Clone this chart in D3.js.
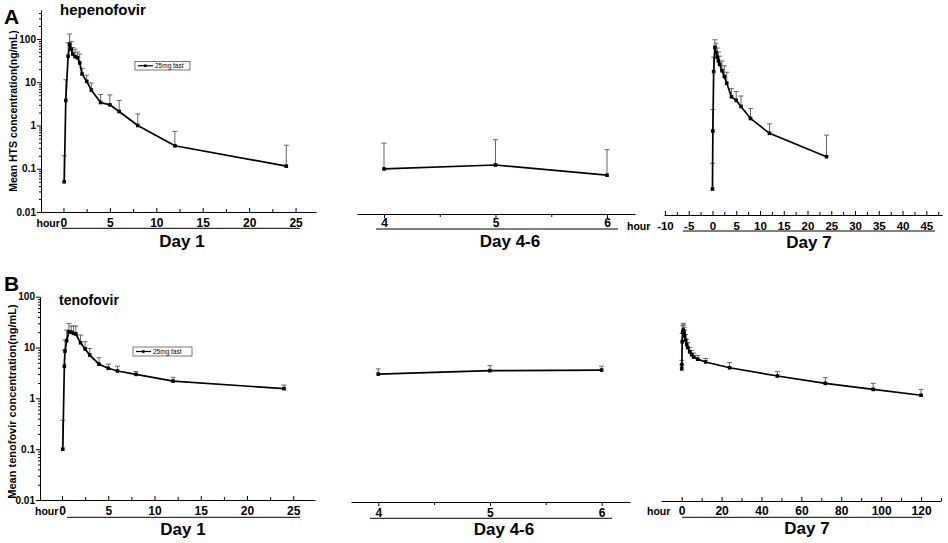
<!DOCTYPE html>
<html>
<head>
<meta charset="utf-8">
<script src="https://cdn.jsdelivr.net/npm/d3@7"></script>
<style>
body { margin: 0; background: #fff; }
svg text { font-family: "Liberation Sans", Arial, sans-serif; font-weight: bold; fill: #000; }
</style>
</head>
<body>
<div id="chart"></div>
<script>
// ---- data ----
// hepenofovir (HTS), day 1
var hepD1Time  = [0.083, 0.25, 0.5, 0.667, 0.833, 1, 1.25, 1.5, 1.75, 2, 2.5, 3, 4, 5, 6, 8, 12, 24];
var hepD1Mean  = [0.05, 3.8, 40, 75, 58, 45, 39, 37, 28, 15.5, 10.5, 6.6, 3.4, 3.0, 2.1, 1.0, 0.34, 0.115];
var hepD1Upper = [0.2, 11.4, 82, 130, 88, 63, 58, 50, 45, 21, 14.6, 9.6, 5.2, 5.1, 3.8, 1.85, 0.73, 0.35];
// hepenofovir, days 4-6 (trough)
var hepD46Day   = [4, 5, 6];
var hepD46Mean  = [0.099, 0.122, 0.071];
var hepD46Upper = [0.39, 0.47, 0.276];
// hepenofovir, day 7
var hepD7Time  = [0, 0.083, 0.25, 0.5, 0.75, 1, 1.25, 1.5, 2, 2.5, 3, 4, 5, 6, 8, 12, 24];
var hepD7Mean  = [0.034, 0.75, 17.7, 64, 48, 38, 31, 26, 18.5, 13.5, 9.5, 4.6, 3.8, 2.75, 1.45, 0.66, 0.19];
var hepD7Upper = [0.134, 2.33, 38, 96, 80, 62, 50, 40, 31, 24, 17, 7.1, 6.1, 4.8, 2.46, 1.09, 0.6];

// tenofovir, day 1
var tenD1Time  = [0.083, 0.25, 0.33, 0.5, 0.75, 1, 1.25, 1.5, 2, 2.5, 3, 4, 5, 6, 8, 12, 24];
var tenD1Mean  = [0.1, 4.3, 8.5, 13.6, 20.5, 20, 19, 18.4, 12.4, 9.4, 7.1, 4.7, 3.9, 3.45, 2.96, 2.19, 1.55];
var tenD1Upper = [0.37, 8.9, 14, 22, 29.8, 26.5, 26.5, 26.5, 17.6, 13, 9.6, 6.3, 4.7, 4.3, 3.35, 2.6, 1.83];
// tenofovir, days 4-6
var tenD46Day   = [4, 5, 6];
var tenD46Mean  = [3.0, 3.5, 3.6];
var tenD46Upper = [3.8, 4.4, 4.3];
// tenofovir, day 7
var tenD7Time  = [0, 0.083, 0.25, 0.5, 0.75, 1, 1.25, 1.5, 2, 2.5, 3, 4, 5, 6, 8, 12, 24, 48, 72, 96, 120];
var tenD7Mean  = [3.8, 4.6, 13, 20, 22, 21, 19, 17, 14, 11.5, 10, 8.2, 7.2, 6.5, 5.9, 5.2, 4.0, 2.75, 1.97, 1.5, 1.15];
var tenD7Upper = [4.6, 5.6, 19, 27, 30, 28, 25, 22, 18, 14.5, 12.5, 10, 8.8, 7.8, 7, 6.1, 5.04, 3.35, 2.55, 1.97, 1.5];

// tick labels
var yTickValues = [0.01, 0.1, 1, 10, 100];
var yTickLabels = ['0.01', '0.1', '1', '10', '100'];
var day1Ticks   = [0, 5, 10, 15, 20, 25];
var day46Ticks  = [4, 5, 6];
var hepD7Ticks  = [-10, -5, 0, 5, 10, 15, 20, 25, 30, 35, 40, 45];
var tenD7Ticks  = [0, 20, 40, 60, 80, 100, 120];
var legendLabel = '25mg fast';

// ---- svg ----
var svgWidth = 948;
var svgHeight = 543;

var svg = d3.select('#chart')
  .append('svg')
  .attr('width', svgWidth)
  .attr('height', svgHeight);

svg.append('rect')
  .attr('width', svgWidth)
  .attr('height', svgHeight)
  .attr('fill', '#fff');

// log y scales (one per row)
var yA = d3.scaleLog().domain([0.01, 468]).range([212, 10]);
var yB = d3.scaleLog().domain([0.01, 100]).range([500, 296.7]);

// minor log ticks
function minorLog(lo, hi) {
  var out = [];
  for (var p = lo; p < hi; p++) {
    for (var m = 2; m <= 9; m++) out.push(m * Math.pow(10, p));
  }
  return out;
}

function drawYAxis(y, x, minors) {
  svg.append('g')
    .attr('transform', `translate(${x},0)`)
    .call(d3.axisLeft(y).tickValues(minors).tickSizeInner(2).tickSizeOuter(0).tickFormat(''))
    .call(g => g.select('.domain').remove());
  var ax = svg.append('g')
    .attr('transform', `translate(${x},0)`)
    .call(d3.axisLeft(y).tickValues(yTickValues).tickSizeInner(4).tickSizeOuter(0).tickPadding(1)
      .tickFormat((d, i) => yTickLabels[i]));
  ax.selectAll('text').style('font-size', '10px');
}

// x axis: ticks up (dir -1) or down (dir 1), labels centred at labelOff below the line
function drawXAxis(x, yPos, majors, minors, dir, labelOff, fontSize) {
  fontSize = fontSize || 12;
  svg.append('g')
    .attr('transform', `translate(0,${yPos})`)
    .call(d3.axisBottom(x).tickValues(minors).tickSizeInner(3 * dir).tickSizeOuter(0).tickFormat(''))
    .call(g => g.select('.domain').remove());
  var pad = labelOff - 0.36 * fontSize - Math.max(4 * dir, 0);
  var ax = svg.append('g')
    .attr('transform', `translate(0,${yPos})`)
    .call(d3.axisBottom(x).tickValues(majors).tickSizeInner(4 * dir).tickSizeOuter(0).tickPadding(pad)
      .tickFormat(d => String(d)));
  ax.selectAll('text').style('font-size', fontSize + 'px');
}

function drawSeries(x, y, time, mean, upper) {
  var g = svg.append('g');
  // upper error bars
  time.forEach(function(t, i) {
    var cx = x(t);
    g.append('line')
      .attr('x1', cx).attr('x2', cx)
      .attr('y1', y(mean[i])).attr('y2', y(upper[i]))
      .attr('stroke', '#666').attr('stroke-width', 1);
    g.append('line')
      .attr('x1', cx - 2.5).attr('x2', cx + 2.5)
      .attr('y1', y(upper[i])).attr('y2', y(upper[i]))
      .attr('stroke', '#666').attr('stroke-width', 1);
  });
  var line = d3.line()
    .x((d, i) => x(time[i]))
    .y(d => y(d));
  g.append('path')
    .attr('d', line(mean))
    .attr('fill', 'none')
    .attr('stroke', '#000')
    .attr('stroke-width', 1.7);
  g.selectAll('rect.mk')
    .data(mean)
    .enter()
    .append('rect')
    .attr('class', 'mk')
    .attr('x', (d, i) => x(time[i]) - 1.8)
    .attr('y', d => y(d) - 1.8)
    .attr('width', 3.6)
    .attr('height', 3.6)
    .attr('fill', '#000');
}

function underline(x1, x2, yPos) {
  svg.append('line')
    .attr('x1', x1).attr('x2', x2)
    .attr('y1', yPos).attr('y2', yPos)
    .attr('stroke', '#000').attr('stroke-width', 1);
}

function label(txt, x, yPos, size, anchor) {
  return svg.append('text')
    .attr('x', x).attr('y', yPos)
    .attr('text-anchor', anchor || 'middle')
    .style('font-size', size + 'px')
    .text(txt);
}

function legend(x, yPos, w, h) {
  svg.append('rect')
    .attr('x', x).attr('y', yPos).attr('width', w).attr('height', h)
    .attr('fill', '#fff').attr('stroke', '#555').attr('stroke-width', 0.8);
  var cy = yPos + h / 2;
  svg.append('line')
    .attr('x1', x + 3).attr('x2', x + 18).attr('y1', cy).attr('y2', cy)
    .attr('stroke', '#000').attr('stroke-width', 1.2);
  svg.append('rect')
    .attr('x', x + 9).attr('y', cy - 1.3).attr('width', 2.6).attr('height', 2.6).attr('fill', '#000');
  svg.append('text')
    .attr('x', x + 20).attr('y', cy + 2.2)
    .style('font-size', '6.5px').style('font-weight', 'normal')
    .text(legendLabel);
}

// ================= row A: hepenofovir =================
var xA1 = d3.scaleLinear().domain([-2.42, 27.2]).range([41, 316]);
var xA2 = d3.scaleLinear().domain([3.758, 6.251]).range([357, 635]);
var xA3 = d3.scaleLinear().domain([-10.2, 48.3]).range([664, 942]);

drawYAxis(yA, 41, minorLog(-2, 2).concat([200, 300, 400]));
drawXAxis(xA1, 212, day1Ticks, [2.5, 7.5, 12.5, 17.5, 22.5], -1, 11);
drawXAxis(xA2, 214, day46Ticks, [4.5, 5.5], 1, 9);
drawXAxis(xA3, 215, hepD7Ticks, [-7.5, -2.5, 2.5, 7.5, 12.5, 17.5, 22.5, 27.5, 32.5, 37.5, 42.5, 47.5], -1, 11, 11.5);

drawSeries(xA1, yA, hepD1Time, hepD1Mean, hepD1Upper);
drawSeries(xA2, yA, hepD46Day, hepD46Mean, hepD46Upper);
drawSeries(xA3, yA, hepD7Time, hepD7Mean, hepD7Upper);

underline(62, 300, 228.3);
underline(376, 618, 229);
underline(683, 935, 231);

label('hour', 36.5, 227, 10.5, 'start');
label('hour', 627, 230, 10.5, 'start');
label('Day 1', 182, 247, 17);
label('Day 4-6', 510, 247, 17);
label('Day 7', 809, 248, 17);

label('A', 4, 24, 21, 'start');
label('hepenofovir', 60, 14.5, 15, 'start');
svg.append('text')
  .attr('transform', 'translate(16.5,111) rotate(-90)')
  .attr('text-anchor', 'middle')
  .style('font-size', '10.5px')
  .text('Mean HTS concentration(ng/mL)');
legend(135, 61.5, 55, 8.5);

// ================= row B: tenofovir =================
var xB1 = d3.scaleLinear().domain([-2.38, 27.35]).range([40, 315]);
var xB2 = d3.scaleLinear().domain([3.756, 6.254]).range([351, 630]);
var xB3 = d3.scaleLinear().domain([-10.38, 130]).range([661, 941]);

drawYAxis(yB, 40, minorLog(-2, 2));
drawXAxis(xB1, 500, day1Ticks, [2.5, 7.5, 12.5, 17.5, 22.5], -1, 11);
drawXAxis(xB2, 502, day46Ticks, [4.5, 5.5], 1, 11);
drawXAxis(xB3, 501, tenD7Ticks, [10, 30, 50, 70, 90, 110, 130], -1, 9.7);

drawSeries(xB1, yB, tenD1Time, tenD1Mean, tenD1Upper);
drawSeries(xB2, yB, tenD46Day, tenD46Mean, tenD46Upper);
drawSeries(xB3, yB, tenD7Time, tenD7Mean, tenD7Upper);

underline(67, 300, 517.3);
underline(370, 612, 518.3);
underline(682, 922, 517.3);

label('hour', 35, 514.7, 10.5, 'start');
label('hour', 647, 514.5, 10.5, 'start');
label('Day 1', 183, 535, 17);
label('Day 4-6', 504, 535, 17);
label('Day 7', 807, 534, 17);

label('B', 4, 291, 21, 'start');
label('tenofovir', 59, 305, 14, 'start');
svg.append('text')
  .attr('transform', 'translate(16,401.5) rotate(-90)')
  .attr('text-anchor', 'middle')
  .style('font-size', '11px')
  .text('Mean tenofovir concentration(ng/mL)');
legend(133, 347, 59, 9);
</script>
</body>
</html>
